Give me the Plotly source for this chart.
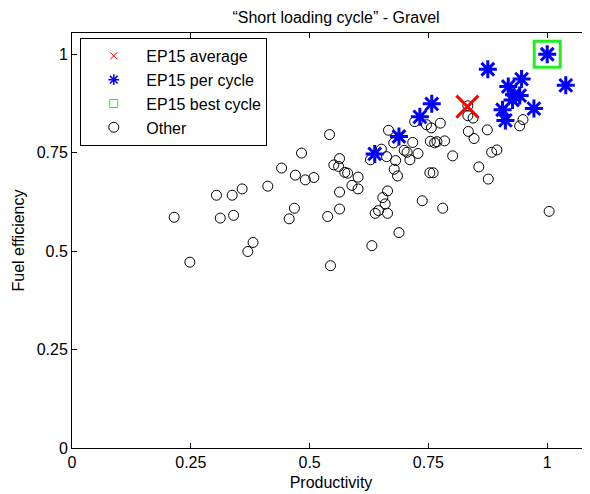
import plotly.graph_objects as go

# "Other" cycles (Productivity, Fuel efficiency)
other_x = [0.483, 0.441, 0.470, 0.491, 0.412, 0.358, 0.337, 0.304, 0.215, 0.312,
           0.340, 0.468, 0.457, 0.381, 0.370, 0.248, 0.542, 0.563, 0.551, 0.561,
           0.574, 0.580, 0.509, 0.602, 0.589, 0.602, 0.563, 0.563, 0.538, 0.664,
           0.654, 0.659, 0.645, 0.638, 0.664, 0.688, 0.631, 0.544, 0.737, 0.780,
           0.753, 0.760, 0.666, 0.677, 0.628, 0.651, 0.662, 0.681, 0.678, 0.685,
           0.699, 0.705, 0.711, 0.717, 0.728, 0.721, 0.746, 0.756, 0.775, 0.754,
           0.763, 0.768, 0.784, 0.801, 0.833, 0.833, 0.844, 0.834, 0.846, 0.874,
           0.883, 0.894, 0.856, 0.876, 0.949, 0.942, 1.004]
other_y = [0.749, 0.711, 0.693, 0.681, 0.665, 0.658, 0.642, 0.642, 0.586, 0.584,
           0.591, 0.609, 0.582, 0.522, 0.499, 0.472, 0.796, 0.735, 0.719, 0.715,
           0.700, 0.698, 0.687, 0.688, 0.667, 0.658, 0.650, 0.607, 0.588, 0.653,
           0.636, 0.620, 0.603, 0.596, 0.596, 0.547, 0.514, 0.463, 0.628, 0.609,
           0.699, 0.699, 0.807, 0.775, 0.732, 0.759, 0.740, 0.730, 0.708, 0.691,
           0.756, 0.751, 0.732, 0.776, 0.748, 0.829, 0.821, 0.813, 0.825, 0.779,
           0.775, 0.778, 0.780, 0.742, 0.869, 0.844, 0.838, 0.804, 0.786, 0.808,
           0.751, 0.757, 0.714, 0.683, 0.834, 0.818, 0.601]

# EP15 per cycle
cycle_x = [0.875, 1.000, 1.039, 0.946, 0.918, 0.930, 0.942, 0.927, 0.972, 0.906,
           0.912, 0.637, 0.688, 0.732, 0.757]
cycle_y = [0.962, 1.000, 0.921, 0.937, 0.918, 0.897, 0.895, 0.884, 0.862, 0.859,
           0.832, 0.747, 0.791, 0.841, 0.874]

# EP15 average and best cycle
avg_x = [0.832]
avg_y = [0.867]
best_x = [1.0]
best_y = [1.0]

tick_vals = [0, 0.25, 0.5, 0.75, 1]
tick_text = ["0", "0.25", "0.5", "0.75", "1"]

FONT = "Liberation Sans, Arial, Helvetica, sans-serif"
RED, BLUE, GREEN = "#ff0000", "#0000ff", "#20f020"

fig = go.Figure()

# data marks
fig.add_trace(go.Scatter(
    x=other_x, y=other_y, mode="markers", showlegend=False,
    marker=dict(symbol="circle-open", size=10, color="black", line=dict(width=1, color="black")),
))
fig.add_trace(go.Scatter(
    x=cycle_x, y=cycle_y, mode="markers", showlegend=False,
    marker=dict(symbol="asterisk-open", size=15, color=BLUE, line=dict(width=3, color=BLUE)),
))
fig.add_trace(go.Scatter(
    x=avg_x, y=avg_y, mode="markers", showlegend=False,
    marker=dict(symbol="x-thin-open", size=22, color=RED, line=dict(width=3, color=RED)),
))
fig.add_trace(go.Scatter(
    x=best_x, y=best_y, mode="markers", showlegend=False,
    marker=dict(symbol="square-open", size=26, color=GREEN, line=dict(width=3, color=GREEN)),
))

# legend entries (small markers like the original legend)
legend_items = [
    ("EP15 average", "x-thin-open", 7, RED, 1),
    ("EP15 per cycle", "asterisk-open", 9, BLUE, 1.5),
    ("EP15 best cycle", "square-open", 8, GREEN, 1),
    ("Other", "circle-open", 10, "black", 1),
]
for name, sym, size, col, lw in legend_items:
    fig.add_trace(go.Scatter(
        x=[None], y=[None], mode="markers", name=name,
        marker=dict(symbol=sym, size=size, color=col, line=dict(width=lw, color=col)),
    ))

axis_common = dict(
    tickvals=tick_vals, ticktext=tick_text,
    ticks="inside", ticklen=5, tickwidth=1, tickcolor="black",
    showline=True, linecolor="black", linewidth=1,
    showgrid=False, zeroline=False, automargin=False,
    tickfont=dict(family=FONT, size=16, color="black"),
    title_font=dict(family=FONT, size=16, color="black"),
)

# the page body adds an 8px offset, so margins are shifted by that much
fig.update_layout(
    width=590, height=494,
    paper_bgcolor="white", plot_bgcolor="white",
    margin=dict(l=64, r=8, t=25, b=54, autoexpand=False),
    font=dict(family=FONT, size=16, color="black"),
    title=dict(text="\u201cShort loading cycle\u201d - Gravel",
               x=328 / 590, xanchor="center", y=1 - 9 / 494, yanchor="middle",
               font=dict(family=FONT, size=16, color="black")),
    xaxis=dict(range=[0, 1.09], mirror="ticks", title=dict(text="Productivity", standoff=6),
               **axis_common),
    yaxis=dict(range=[0, 1.054], title=dict(text="Fuel efficiency", standoff=8),
               **axis_common),
    legend=dict(x=0.016, y=0.988, xanchor="left", yanchor="top",
                bgcolor="white", bordercolor="black", borderwidth=1,
                itemwidth=55, itemsizing="trace",
                font=dict(family=FONT, size=16, color="black")),
)

fig.write_html("out.html")
